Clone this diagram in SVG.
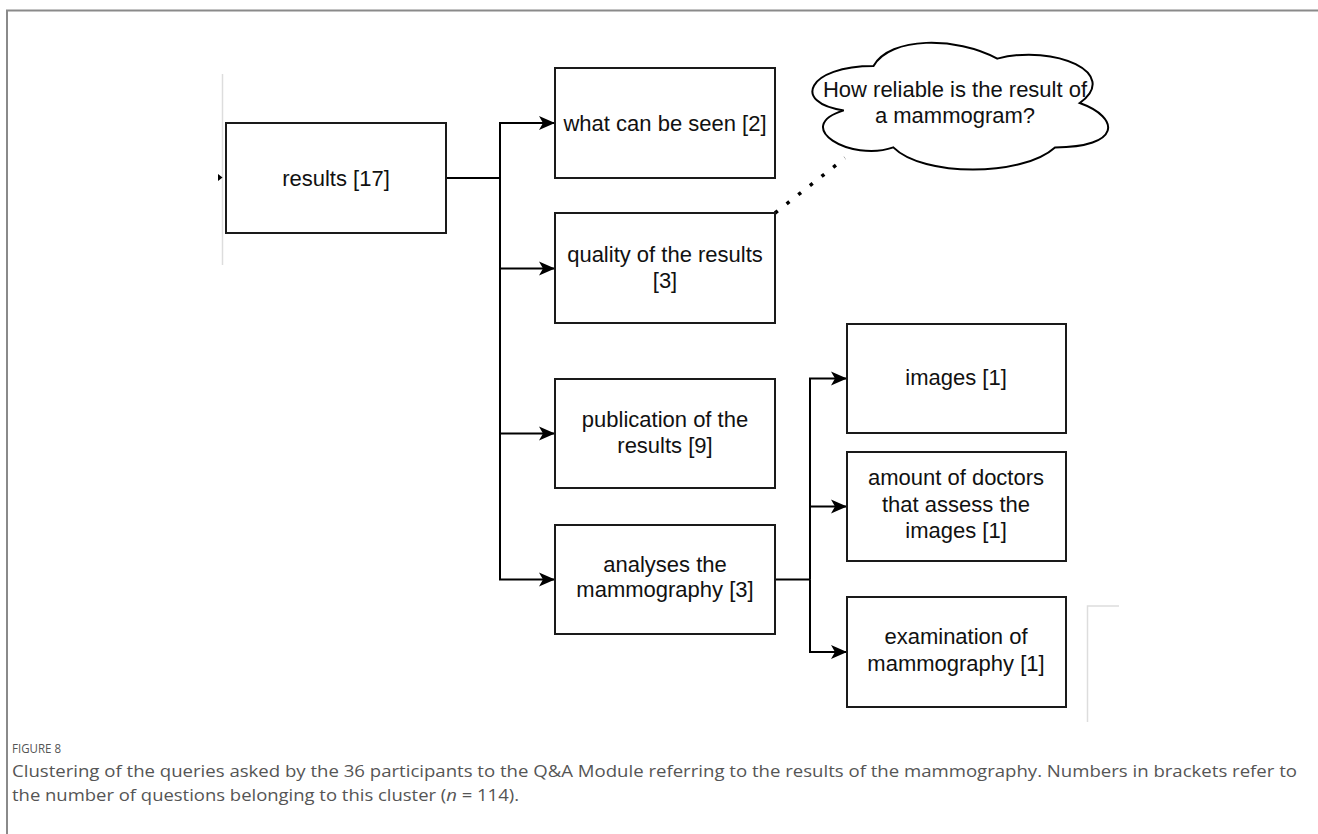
<svg xmlns="http://www.w3.org/2000/svg" width="1318" height="834" viewBox="0 0 1318 834">
<style>
.box{fill:#fff;stroke:#1a1a1a;stroke-width:2}
.lbl{font-family:"Liberation Sans",Arial,sans-serif;font-size:22px;fill:#111;text-anchor:middle}
.edge{fill:none;stroke:#000;stroke-width:2}
.ghost{fill:none;stroke:#ddd;stroke-width:1.5}
.cap{font-family:"Open Sans","Noto Sans",sans-serif;fill:#555}
</style>
<defs>
<marker id="arr" markerUnits="userSpaceOnUse" markerWidth="17" markerHeight="15" refX="16" refY="7" orient="auto" overflow="visible">
<path d="M0,0 L16,7 L0,14 L4,7 Z" fill="#000"/>
</marker>
</defs>
<rect width="1318" height="834" fill="#fff"/>
<path d="M7,834 V10.5 H1318" fill="none" stroke="#8a8a8a" stroke-width="2"/>
<g id="ghosts">
<path class="ghost" d="M222.5,74 V265"/>
<path class="ghost" d="M1119,606 H1087.5 V722"/>
<path d="M218,174 L222.5,177.5 L218,181 Z" fill="#000"/>
</g>
<g id="connectors">
<path class="edge" d="M446,178 H500"/>
<path class="edge" d="M500,178 V123 H555" marker-end="url(#arr)"/>
<path class="edge" d="M500,178 V268.5 H555" marker-end="url(#arr)"/>
<path class="edge" d="M500,178 V433.5 H555" marker-end="url(#arr)"/>
<path class="edge" d="M500,178 V579.5 H555" marker-end="url(#arr)"/>
<path class="edge" d="M774,579.5 H810"/>
<path class="edge" d="M810,579.5 V378.5 H847" marker-end="url(#arr)"/>
<path class="edge" d="M810,579.5 V506.5 H847" marker-end="url(#arr)"/>
<path class="edge" d="M810,579.5 V652 H847" marker-end="url(#arr)"/>
<path d="M775,213 L845,158" fill="none" stroke="#000" stroke-width="3.5" stroke-dasharray="3.5 11.3"/>
</g>
<g id="n-results">
<rect class="box" x="226" y="123" width="220" height="110"/>
<text class="lbl" x="336" y="186">results [17]</text>
</g>
<g id="n-seen">
<rect class="box" x="555" y="68" width="220" height="110"/>
<text class="lbl" x="665" y="131">what can be seen [2]</text>
</g>
<g id="n-quality">
<rect class="box" x="555" y="213" width="220" height="110"/>
<text class="lbl" x="665" y="262">quality of the results</text>
<text class="lbl" x="665" y="288">[3]</text>
</g>
<g id="n-publication">
<rect class="box" x="555" y="379" width="220" height="109"/>
<text class="lbl" x="665" y="427">publication of the</text>
<text class="lbl" x="665" y="453">results [9]</text>
</g>
<g id="n-analyses">
<rect class="box" x="555" y="525" width="220" height="109"/>
<text class="lbl" x="665" y="572">analyses the</text>
<text class="lbl" x="665" y="597">mammography [3]</text>
</g>
<g id="n-images">
<rect class="box" x="847" y="324" width="219" height="109"/>
<text class="lbl" x="956" y="385">images [1]</text>
</g>
<g id="n-doctors">
<rect class="box" x="847" y="452" width="219" height="109"/>
<text class="lbl" x="956" y="485">amount of doctors</text>
<text class="lbl" x="956" y="511.5">that assess the</text>
<text class="lbl" x="956" y="538">images [1]</text>
</g>
<g id="n-exam">
<rect class="box" x="847" y="597" width="219" height="110"/>
<text class="lbl" x="956" y="644">examination of</text>
<text class="lbl" x="956" y="671">mammography [1]</text>
</g>
<g id="n-cloud">
<path d="M873.5,66 C807.5,66 791,103 843.8,110.4 C791,126.7 850.4,162.2 893.3,147.4 C923,177 1022,177 1055,147.4 C1121,147.4 1121,117.8 1079.75,103 C1121,73.4 1055,43.8 997.25,58.6 C956,36.4 890,36.4 873.5,66 Z" fill="#fff" stroke="#000" stroke-width="2"/>
<text class="lbl" x="955" y="97">How reliable is the result of</text>
<text class="lbl" x="955" y="123">a mammogram?</text>
</g>
<g id="caption">
<text class="cap" x="12" y="753" font-size="12" fill="#666" textLength="49" lengthAdjust="spacingAndGlyphs">FIGURE 8</text>
<text class="cap" x="12" y="777" font-size="16" textLength="1285" lengthAdjust="spacingAndGlyphs">Clustering of the queries asked by the 36 participants to the Q&amp;A Module referring to the results of the mammography. Numbers in brackets refer to</text>
<text class="cap" x="12" y="801" font-size="16" textLength="507" lengthAdjust="spacingAndGlyphs">the number of questions belonging to this cluster (<tspan font-style="italic">n</tspan> = 114).</text>
</g>
</svg>
